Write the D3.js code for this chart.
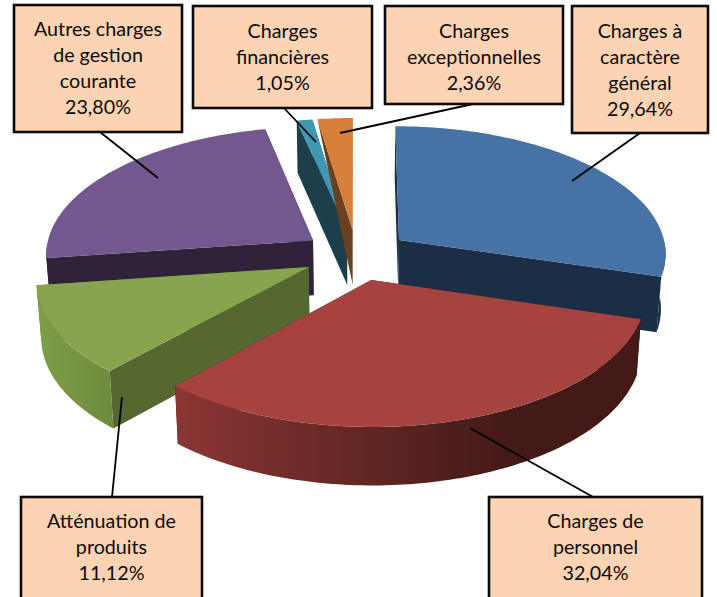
<!DOCTYPE html>
<html><head><meta charset="utf-8">
<script src="https://cdn.jsdelivr.net/npm/d3@7"></script>
<style>html,body{margin:0;padding:0;background:#fff;overflow:hidden}svg{display:block}</style>
</head><body><svg id="c" width="717" height="597"></svg>
<script>
const categories = ["Charges à caractère général","Charges de personnel","Atténuation de produits","Autres charges de gestion courante","Charges financières","Charges exceptionnelles"];
const values = [29.64,32.04,11.12,23.80,1.05,2.36];
const labelLines = [["Charges à","caractère","général"],["Charges de","personnel"],["Atténuation de","produits"],["Autres charges","de gestion","courante"],["Charges","financières"],["Charges","exceptionnelles"]];
const topColors  = ["#4672a6","#a64340","#88a44e","#72588e","#3f97b1","#d7803a"];
const wallColors = ["#1b2e45","#431a18","#556830","#2e2339","#1c3f4b","#6b4020"];
const arcFrom    = ["#1b2e45","#8a3634","#7f9e47","#2e2339","#1c3f4b","#6b4020"];
const arcTo      = ["#1b2e45","#431a18","#6f8c3e","#2e2339","#1c3f4b","#6b4020"];

const W=717,H=597;
const geo={cx:356.5,cy:255,rx:268,ry:127.5,k:0.097,e:0.2,depth:55,shrink:0.985};
const boxes=[
 {x:572,y:6,w:136,h:127,base:38,to:[[640,133],[572,181]]},
 {x:489,y:497,w:213,h:130,base:528,to:[[593,497],[470,428]]},
 {x:21,y:497,w:181,h:130,base:528,to:[[112,497],[122,397]]},
 {x:14,y:5,w:168,h:127,base:36,to:[[100,132],[158,178]]},
 {x:193,y:6,w:179,h:102,base:38,to:[[284,108],[316,142]]},
 {x:385,y:6,w:178,h:98,base:38,to:[[473,104],[340,133]]}
];
const drawOrder=[3,4,5,2,0,1];
const taperedWall=5;

const svg=d3.select("#c");
const defs=svg.append("defs");
const arcs=d3.pie().sort(null).value(d=>d).startAngle(0).endAngle(2*Math.PI)(values);
const line=d3.line();

function project(a,mid,r,z){
  const X=geo.e*Math.sin(mid)+r*Math.sin(a), Y=-(geo.e*Math.cos(mid)+r*Math.cos(a));
  const s=1/(1-geo.k*Y), q=z?geo.shrink:1;
  return [geo.cx+geo.rx*X*s*q, geo.cy+geo.ry*Y*s+(z?geo.depth*Math.sqrt(s):0)];
}
function angles(d){
  const n=Math.max(4,Math.ceil((d.endAngle-d.startAngle)/0.02));
  return d3.range(n+1).map(i=>d.startAngle+(d.endAngle-d.startAngle)*i/n);
}
const closed=p=>line(p)+"Z";

drawOrder.forEach(i=>{
  const d=arcs[i], m=(d.startAngle+d.endAngle)/2, g=svg.append("g");
  const as=angles(d);
  const top=as.map(a=>project(a,m,1,false));
  const a0=project(0,m,0,false), a1=project(0,m,0,true);
  const e0=project(d.startAngle,m,1,true), e1=project(d.endAngle,m,1,true);
  // radial walls
  g.append("path").attr("d",closed(i===taperedWall?[a0,top[0],a1]:[a0,top[0],e0,a1])).attr("fill",wallColors[i]);
  g.append("path").attr("d",closed([a0,top[top.length-1],e1,a1])).attr("fill",wallColors[i]);
  // outer curved wall (front-facing part of the rim only)
  const front=as.filter(a=>Math.cos(a)<0);
  if(front.length>1){
    const ft=front.map(a=>project(a,m,1,false)), fb=front.map(a=>project(a,m,1,true));
    const xs=ft.map(p=>p[0]), gid="w"+i;
    const lg=defs.append("linearGradient").attr("id",gid).attr("gradientUnits","userSpaceOnUse")
      .attr("x1",d3.min(xs)).attr("x2",i===1?d3.min(xs)+330:d3.max(xs)).attr("y1",0).attr("y2",0);
    lg.append("stop").attr("offset",0).attr("stop-color",arcFrom[i]);
    lg.append("stop").attr("offset",1).attr("stop-color",arcTo[i]);
    g.append("path").attr("d",closed(ft.concat(fb.slice().reverse()))).attr("fill",`url(#${gid})`);
  }
  // top face
  g.append("path").attr("d",closed([a0].concat(top))).attr("fill",topColors[i]);
});

// leader lines and label boxes
categories.forEach((c,i)=>{
  svg.append("path").attr("d",line(boxes[i].to)).attr("stroke","#000").attr("stroke-width",1.8).attr("fill","none");
});
categories.forEach((c,i)=>{
  const b=boxes[i], g=svg.append("g").attr("data-name",c);
  g.append("rect").attr("x",b.x).attr("y",b.y).attr("width",b.w).attr("height",b.h)
    .attr("fill","#fcd3b3").attr("stroke","#0a0a0a").attr("stroke-width",2.6);
  const rows=labelLines[i].concat([d3.format(".2f")(values[i]).replace(".",",")+"%"]);
  g.selectAll("text").data(rows).join("text")
    .attr("x",b.x+b.w/2).attr("y",(t,j)=>b.base+j*26)
    .attr("text-anchor","middle").attr("font-family","Lato, 'Open Sans', sans-serif")
    .attr("font-size",19.7).attr("fill","#0c0c0c").text(t=>t);
});
</script></body></html>
